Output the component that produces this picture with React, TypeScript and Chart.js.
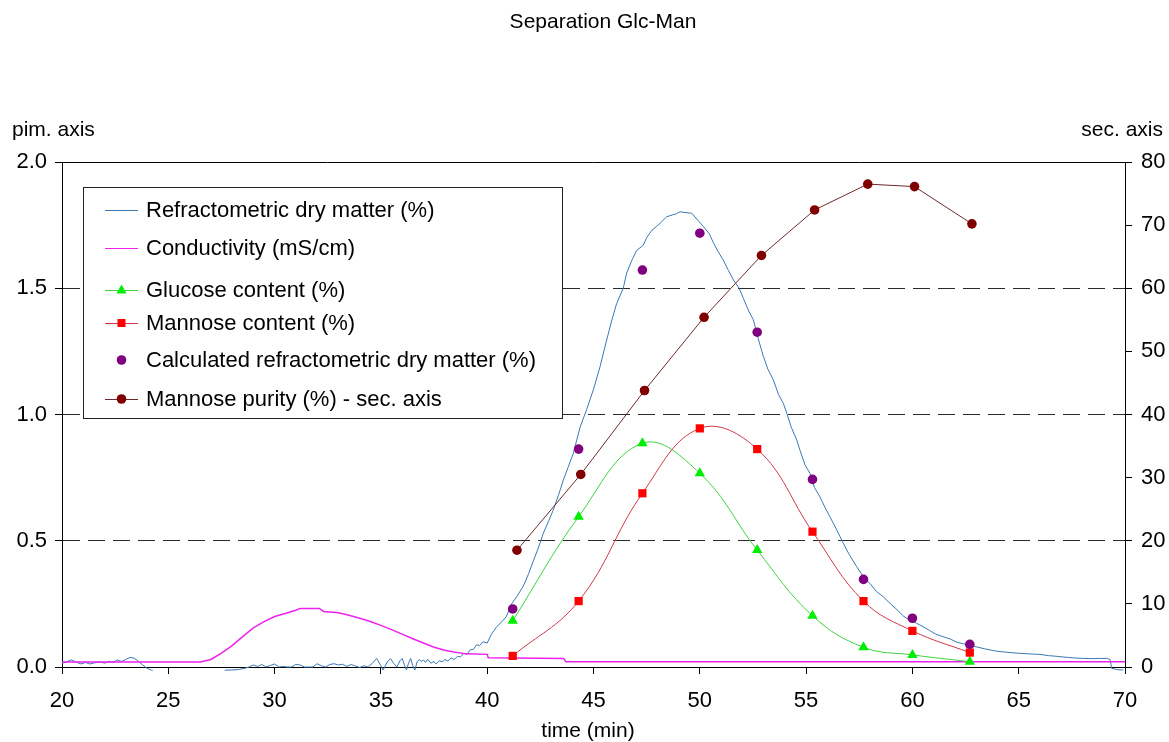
import React, { useEffect, useRef } from "react";
import { Chart, registerables } from "chart.js";

Chart.register(...registerables);

const TITLE = "Separation Glc-Man";
const X_TITLE = "time (min)";
const LEFT_TITLE = "pim. axis";
const RIGHT_TITLE = "sec. axis";

const LABELS = [
  "Refractometric dry matter (%)",
  "Conductivity (mS/cm)",
  "Glucose content (%)",
  "Mannose content (%)",
  "Calculated refractometric dry matter (%)",
  "Mannose purity (%) - sec. axis",
];

const xTicks = [20, 25, 30, 35, 40, 45, 50, 55, 60, 65, 70];
const leftTicks = [0, 0.5, 1.0, 1.5, 2.0];
const rightTicks = [0, 10, 20, 30, 40, 50, 60, 70, 80];

// Refractometric dry matter trace
const refTimes = [
  20.0, 20.2, 20.45, 20.7, 20.9, 21.1, 21.3, 21.5, 21.8, 22.0, 22.2, 22.4, 22.6, 22.8, 23.0, 23.2, 23.4, 23.6, 23.8, 24.0,
  24.2, 24.5, 25.0, 26.0, 27.0, 27.5, 27.7, 28.0, 28.3, 28.6, 28.8, 29.0, 29.2, 29.4, 29.6, 29.8, 30.0, 30.2, 30.4, 30.6,
  30.8, 31.0, 31.2, 31.4, 31.6, 31.8, 32.0, 32.2, 32.4, 32.6, 32.8, 33.0, 33.2, 33.4, 33.6, 33.8, 34.0, 34.2, 34.4, 34.6,
  34.8, 35.0, 35.1, 35.3, 35.45, 35.6, 35.75, 35.9, 36.0, 36.1, 36.2, 36.3, 36.4, 36.5, 36.6, 36.7, 36.8, 36.9, 37.0, 37.1,
  37.2, 37.35, 37.5, 37.6, 37.75, 37.9, 38.0, 38.15, 38.3, 38.45, 38.6, 38.75, 38.9, 39.05, 39.2, 39.35, 39.5, 39.65, 39.8, 40.0,
  40.2, 40.45, 40.7, 40.9, 41.15, 41.4, 41.7, 41.95, 42.17, 42.4, 42.64, 42.9, 43.1, 43.35, 43.58, 43.8, 44.05, 44.37, 44.68, 45.0,
  45.31, 45.62, 45.85, 46.09, 46.4, 46.56, 46.8, 47.03, 47.34, 47.5, 47.75, 47.97, 48.13, 48.44, 48.7, 48.9, 49.07, 49.3, 49.62, 49.9,
  50.17, 50.45, 50.64, 50.9, 51.1, 51.35, 51.58, 51.85, 52.05, 52.3, 52.52, 52.75, 52.99, 53.2, 53.46, 53.7, 53.93, 54.09, 54.3, 54.56,
  54.71, 54.95, 55.18, 55.4, 55.65, 55.9, 56.12, 56.4, 56.75, 57.0, 57.38, 57.69, 58.0, 58.3, 58.63, 58.95, 59.3, 59.6, 59.9, 60.2,
  60.5, 60.8, 61.1, 61.45, 61.8, 62.1, 62.4, 62.7, 63.0, 63.4, 63.8, 64.12, 64.5, 64.9, 65.3, 65.69, 66.0, 66.4, 66.7, 66.94,
  67.3, 67.6, 68.04, 68.4, 68.8, 69.14, 69.3, 69.37, 69.6, 69.92,
];
const refDryMatter = [
  0.015, 0.02, 0.028, 0.018, 0.012, 0.018, 0.012, 0.016, 0.02, 0.015, 0.022, 0.018, 0.028, 0.022, 0.03, 0.038, 0.035, 0.022, 0.008, -0.005,
  -0.012, -0.03, -0.04, -0.04, -0.04, -0.03, -0.012, -0.012, -0.01, -0.005, 0.0, 0.008, 0.002, 0.01, 0.0, 0.006, 0.012, 0.0, 0.002, 0.0,
  0.0, 0.01, 0.008, 0.0, 0.0, 0.0, 0.013, 0.005, 0.0, 0.01, 0.013, 0.008, 0.011, 0.002, 0.01, 0.004, -0.002, 0.005, 0.0, 0.015,
  0.034, 0.005, -0.012, 0.02, 0.033, 0.015, 0.0, 0.025, 0.034, 0.01, -0.012, 0.015, 0.034, 0.005, -0.012, 0.02, 0.03, 0.022, 0.028, 0.018,
  0.03, 0.015, 0.022, 0.012, 0.025, 0.02, 0.03, 0.024, 0.036, 0.03, 0.042, 0.04, 0.055, 0.05, 0.068, 0.07, 0.088, 0.085, 0.1, 0.095,
  0.13, 0.16, 0.18, 0.2, 0.25, 0.28, 0.32, 0.37, 0.42, 0.47, 0.53, 0.58, 0.62, 0.68, 0.74, 0.79, 0.846, 0.95, 1.02, 1.1,
  1.19, 1.295, 1.37, 1.44, 1.5, 1.56, 1.61, 1.65, 1.67, 1.7, 1.73, 1.745, 1.757, 1.783, 1.79, 1.795, 1.803, 1.8, 1.797, 1.77,
  1.744, 1.715, 1.68, 1.64, 1.612, 1.57, 1.533, 1.5, 1.46, 1.41, 1.375, 1.3, 1.23, 1.18, 1.137, 1.08, 1.044, 1.005, 0.95, 0.899,
  0.859, 0.8, 0.767, 0.71, 0.674, 0.63, 0.595, 0.55, 0.49, 0.45, 0.397, 0.358, 0.331, 0.3, 0.278, 0.252, 0.225, 0.2, 0.185, 0.173,
  0.16, 0.145, 0.13, 0.12, 0.11, 0.098, 0.092, 0.087, 0.08, 0.072, 0.065, 0.061, 0.058, 0.055, 0.053, 0.051, 0.05, 0.045, 0.043, 0.041,
  0.038, 0.036, 0.034, 0.033, 0.034, 0.034, 0.03, -0.005, -0.01, -0.012,
];

// Conductivity trace
const condTimes = [
  20.0, 26.5, 27.0, 27.5, 28.0, 28.5, 29.0, 29.5, 30.0, 30.5, 31.0, 31.2, 32.1, 32.3, 33.0, 33.5, 34.0, 34.5, 35.0, 35.5,
  36.0, 36.5, 37.0, 37.5, 38.0, 38.5, 39.0, 40.0, 40.05, 43.6, 43.7, 70.0,
];
const conductivity = [
  0.02, 0.02, 0.03, 0.055, 0.085, 0.12, 0.155, 0.18, 0.2, 0.212, 0.225, 0.232, 0.232, 0.22, 0.215, 0.205, 0.193, 0.18, 0.165, 0.148,
  0.13, 0.112, 0.095, 0.078, 0.066, 0.058, 0.052, 0.05, 0.037, 0.034, 0.021, 0.021,
];

// Sample analyses
const sampleTimes = [41.2, 44.3, 47.3, 50.0, 52.7, 55.3, 57.7, 60.0, 62.7];
const glucose = [0.183, 0.595, 0.886, 0.767, 0.463, 0.203, 0.078, 0.048, 0.021];
const mannose = [0.044, 0.261, 0.688, 0.945, 0.863, 0.536, 0.261, 0.143, 0.057];
const calcDryMatter = [0.23, 0.863, 1.572, 1.718, 1.326, 0.743, 0.347, 0.193, 0.09];
const purityTimes = [41.4, 44.4, 47.4, 50.2, 52.9, 55.4, 57.9, 60.1, 62.8];
const mannosePurity = [18.5, 30.5, 43.8, 55.4, 65.2, 72.4, 76.5, 76.1, 70.2];

const FONT = '"Liberation Sans", Arial, sans-serif';

const COLORS = {
  ref: "#3b78b4",
  cond: "#ee22ee",
  glcLine: "#3fd23f",
  glcPoint: "#00ee00",
  manLine: "#d2374a",
  manPoint: "#ff0000",
  calc: "#800080",
  purLine: "#6e2a2a",
  purPoint: "#800000",
};

const pts = (xs: number[], ys: number[]) => xs.map((x, i) => ({ x, y: ys[i] }));

function drawMarker(ctx: CanvasRenderingContext2D, style: string, x: number, y: number, color: string) {
  ctx.save();
  ctx.fillStyle = color;
  ctx.beginPath();
  if (style === "triangle") {
    ctx.moveTo(x, y - 5.5);
    ctx.lineTo(x + 5, y + 3.5);
    ctx.lineTo(x - 5, y + 3.5);
    ctx.closePath();
  } else if (style === "rect") {
    ctx.rect(x - 4, y - 4, 8, 8);
  } else {
    ctx.arc(x, y, 4.8, 0, Math.PI * 2);
  }
  ctx.fill();
  ctx.restore();
}

const decorPlugin = {
  id: "decor",
  afterDraw(chart: any) {
    const ctx: CanvasRenderingContext2D = chart.ctx;
    const a = chart.chartArea;
    ctx.save();
    // top border (solid) at 2.0
    ctx.strokeStyle = "#000";
    ctx.lineWidth = 1;
    ctx.beginPath();
    ctx.moveTo(a.left, Math.round(a.top) + 0.5);
    ctx.lineTo(a.right, Math.round(a.top) + 0.5);
    ctx.stroke();

    ctx.fillStyle = "#000";
    ctx.textBaseline = "middle";
    ctx.font = `21px ${FONT}`;
    ctx.textAlign = "center";
    ctx.fillText(TITLE, 603, 22);
    ctx.fillText(X_TITLE, 588, 731);
    ctx.textAlign = "left";
    ctx.fillText(LEFT_TITLE, 12, 130);
    ctx.textAlign = "right";
    ctx.fillText(RIGHT_TITLE, 1163, 130);

    // legend
    const lx = 83, ly = 187, lw = 479, lh = 231;
    ctx.fillStyle = "#fff";
    ctx.fillRect(lx, ly, lw, lh);
    ctx.strokeStyle = "#222";
    ctx.lineWidth = 1;
    ctx.strokeRect(lx + 0.5, ly + 0.5, lw, lh);
    const rows = [210, 248, 290, 323, 360, 399];
    const specs = [
      { line: COLORS.ref, marker: null, mc: "" },
      { line: COLORS.cond, marker: null, mc: "" },
      { line: COLORS.glcLine, marker: "triangle", mc: COLORS.glcPoint },
      { line: COLORS.manLine, marker: "rect", mc: COLORS.manPoint },
      { line: null, marker: "circle", mc: COLORS.calc },
      { line: COLORS.purLine, marker: "circle", mc: COLORS.purPoint },
    ];
    ctx.font = `22px ${FONT}`;
    ctx.textAlign = "left";
    specs.forEach((s, i) => {
      const y = rows[i];
      if (s.line) {
        ctx.strokeStyle = s.line;
        ctx.lineWidth = 1;
        ctx.beginPath();
        ctx.moveTo(105, y + 0.5);
        ctx.lineTo(138, y + 0.5);
        ctx.stroke();
      }
      if (s.marker) drawMarker(ctx, s.marker, 121.5, y, s.mc);
      ctx.fillStyle = "#000";
      ctx.fillText(LABELS[i], 146, y + 1);
    });
    ctx.restore();
  },
};

export default function App() {
  const ref = useRef<HTMLCanvasElement | null>(null);
  useEffect(() => {
    document.body.style.margin = "0";
    const canvas = ref.current!;
    Chart.defaults.font.family = FONT;
    Chart.defaults.color = "#000";
    const clip = { left: 0, top: 0, right: 0, bottom: 4 };
    const chart = new Chart(canvas, {
      type: "line",
      data: {
        datasets: [
          {
            label: LABELS[5],
            data: pts(purityTimes, mannosePurity),
            yAxisID: "y2",
            borderColor: COLORS.purLine,
            borderWidth: 1,
            pointStyle: "circle",
            pointRadius: 4.8,
            pointBackgroundColor: COLORS.purPoint,
            pointBorderWidth: 0,
            tension: 0,
          },
          {
            label: LABELS[4],
            data: pts(sampleTimes, calcDryMatter),
            yAxisID: "y",
            showLine: false,
            pointStyle: "circle",
            pointRadius: 4.8,
            pointBackgroundColor: COLORS.calc,
            pointBorderWidth: 0,
          },
          {
            label: LABELS[3],
            data: pts(sampleTimes, mannose),
            yAxisID: "y",
            borderColor: COLORS.manLine,
            borderWidth: 1,
            pointStyle: "rect",
            pointRadius: 5.8,
            pointBackgroundColor: COLORS.manPoint,
            pointBorderWidth: 0,
            tension: 0.4,
          },
          {
            label: LABELS[2],
            data: pts(sampleTimes, glucose),
            yAxisID: "y",
            borderColor: COLORS.glcLine,
            borderWidth: 1,
            pointStyle: "triangle",
            pointRadius: 6,
            pointBackgroundColor: COLORS.glcPoint,
            pointBorderWidth: 0,
            tension: 0.4,
          },
          {
            label: LABELS[1],
            data: pts(condTimes, conductivity),
            yAxisID: "y",
            borderColor: COLORS.cond,
            borderWidth: 1.5,
            pointRadius: 0,
            tension: 0,
            clip,
          },
          {
            label: LABELS[0],
            data: pts(refTimes, refDryMatter),
            yAxisID: "y",
            borderColor: COLORS.ref,
            borderWidth: 1,
            pointRadius: 0,
            tension: 0,
            clip,
          },
        ],
      },
      options: {
        animation: false,
        responsive: false,
        devicePixelRatio: 1,
        layout: { padding: { top: 162, left: 0, right: 0, bottom: 0 } },
        plugins: {
          legend: { display: false },
          title: { display: false },
          tooltip: { enabled: false },
        },
        scales: {
          x: {
            type: "linear",
            min: 20,
            max: 70,
            afterFit: (s: any) => {
              s.height = 75;
            },
            afterBuildTicks: (s: any) => {
              s.ticks = xTicks.map((v) => ({ value: v }));
            },
            ticks: { font: { size: 22, family: FONT }, color: "#000", padding: 14, maxRotation: 0 },
            grid: { drawOnChartArea: false, tickLength: 7, tickColor: "#000", color: "#000" },
            border: { color: "#000", width: 1 },
          },
          y: {
            type: "linear",
            position: "left",
            min: 0,
            max: 2,
            afterFit: (s: any) => {
              s.width = 62;
            },
            afterBuildTicks: (s: any) => {
              s.ticks = leftTicks.map((v) => ({ value: v }));
            },
            ticks: {
              font: { size: 22, family: FONT },
              color: "#000",
              padding: 8,
              callback: (v: any) => Number(v).toFixed(1),
            },
            grid: {
              tickLength: 7,
              tickColor: "#000",
              lineWidth: 1,
              color: (c: any) =>
                c.tick && (c.tick.value === 0 || c.tick.value === 2) ? "rgba(0,0,0,0)" : "#2a2a2a",
            },
            border: { color: "#000", width: 1, dash: [17, 8] },
          },
          y2: {
            type: "linear",
            position: "right",
            min: 0,
            max: 80,
            afterFit: (s: any) => {
              s.width = 44;
            },
            afterBuildTicks: (s: any) => {
              s.ticks = rightTicks.map((v) => ({ value: v }));
            },
            ticks: { font: { size: 22, family: FONT }, color: "#000", padding: 9 },
            grid: { drawOnChartArea: false, tickLength: 7, tickColor: "#000" },
            border: { color: "#000", width: 1 },
          },
        },
      },
      plugins: [decorPlugin],
    } as any);
    return () => chart.destroy();
  }, []);
  return (
    <canvas
      ref={ref}
      width={1169}
      height={742}
      style={{ display: "block", width: "1169px", height: "742px" }}
    />
  );
}
